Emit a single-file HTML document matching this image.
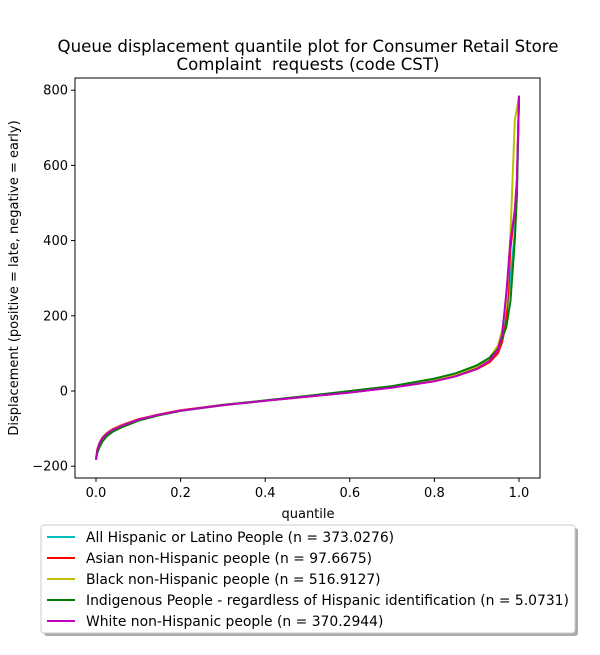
<!DOCTYPE html>
<html><head><meta charset="utf-8"><style>
body{margin:0;background:#fff;font-family:"Liberation Sans","DejaVu Sans",sans-serif;}
svg text{font-family:"DejaVu Sans","Liberation Sans",sans-serif;}
</style></head><body>
<svg id="chart" width="600" height="650">
<text x="308" y="52" font-size="16.6" text-anchor="middle">Queue displacement quantile plot for Consumer Retail Store</text>
<text x="308" y="70" font-size="16.6" text-anchor="middle" xml:space="preserve" style="white-space:pre">Complaint  requests (code CST)</text>
<g id="plot"></g>
<rect x="75" y="78" width="465" height="400" fill="none" stroke="#000" stroke-width="1"/>
<text x="308" y="518" font-size="13" text-anchor="middle">quantile</text>
<text transform="translate(18,278) rotate(-90)" font-size="13" text-anchor="middle">Displacement (positive = late, negative = early)</text>
<g>
<rect x="44" y="528" width="534" height="108" rx="3" fill="#aaa"/>
<rect x="41" y="525" width="534" height="108" rx="3" fill="#fff" stroke="#ccc"/>
<g id="legend-items"></g>
</g>
</svg>
<script>
const xTicks=[0,0.2,0.4,0.6,0.8,1.0];
const xTickLabels=["0.0","0.2","0.4","0.6","0.8","1.0"];
const yTicks=[-200,0,200,400,600,800];
const seriesNames=["All Hispanic or Latino People (n = 373.0276)","Asian non-Hispanic people (n = 97.6675)","Black non-Hispanic people (n = 516.9127)","Indigenous People - regardless of Hispanic identification (n = 5.0731)","White non-Hispanic people (n = 370.2944)"];
const seriesColors=["#00bfbf","#ff0000","#bfbf00","#008000","#bf00bf"];
const quantiles=[0,0.003,0.008,0.015,0.025,0.04,0.06,0.1,0.15,0.2,0.3,0.4,0.5,0.6,0.7,0.8,0.85,0.9,0.93,0.95,0.96,0.97,0.98,0.99,0.995,1.0];
const hispanicValues=[-183,-162,-145,-130,-117,-105,-94,-78,-64,-53,-38,-26,-15,-4,9,27,40,60,80,108,140,200,300,420,520,785];
const asianValues=[-183,-155,-138,-124,-112,-101,-91,-75,-62,-51,-37,-26,-15,-4,9,26,39,58,76,100,130,185,380,480,560,785];
const blackValues=[-180,-155,-138,-125,-113,-102,-92,-76,-63,-52,-38,-26,-15,-3,10,28,42,63,88,120,160,230,420,720,750,785];
const indigenousValues=[-180,-165,-150,-135,-121,-108,-97,-79,-64,-53,-37,-25,-13,0,13,33,47,68,88,112,140,170,240,400,520,785];
const whiteValues=[-183,-157,-140,-126,-114,-103,-93,-76,-63,-52,-38,-26,-15,-4,9,26,39,59,80,110,150,260,400,480,560,785];
const seriesValues=[hispanicValues,asianValues,blackValues,indigenousValues,whiteValues];
const seriesKeys=["hispanic","asian","black","indigenous","white"];
const NS="http://www.w3.org/2000/svg";
const xs=v=>96+v*423;
const ys=v=>391-v*(75.2/200);
const plot=document.getElementById('plot');
function mk(tag,attrs,parent){const e=document.createElementNS(NS,tag);for(const k in attrs)e.setAttribute(k,attrs[k]);parent.appendChild(e);return e;}
xTicks.forEach((t,i)=>{
  const l=mk('line',{x1:xs(t),x2:xs(t),y1:478,y2:482,stroke:'#000'},plot);
  
  
  const tx=mk('text',{x:xs(t),y:497,'font-size':13,'text-anchor':'middle'},plot);
  tx.textContent=xTickLabels[i];
  
  
});
yTicks.forEach(t=>{
  const l=mk('line',{x1:71,x2:75,y1:ys(t),y2:ys(t),stroke:'#000'},plot);
  
  
  const tx=mk('text',{x:68,y:ys(t)+4.5,'font-size':13,'text-anchor':'end'},plot);
  tx.textContent=(t<0?'\u2212'+(-t):String(t));
  
  
});
seriesValues.forEach((vals,si)=>{
  const pts=vals.map((v,i)=>xs(quantiles[i]).toFixed(1)+','+ys(v).toFixed(1)).join(' ');
  const p=mk('polyline',{points:pts,fill:'none',stroke:seriesColors[si],'stroke-width':2,'stroke-linejoin':'round'},plot);
  
  
});
const lg=document.getElementById('legend-items');
seriesNames.forEach((n,i)=>{
  const y=537+i*21;
  const l=mk('line',{x1:47,x2:75,y1:y,y2:y,stroke:seriesColors[i],'stroke-width':2},lg);
  
  
  const t=mk('text',{x:86,y:y+5,'font-size':13.9},lg);
  t.textContent=n;
  
  
});
</script>
</body></html>
